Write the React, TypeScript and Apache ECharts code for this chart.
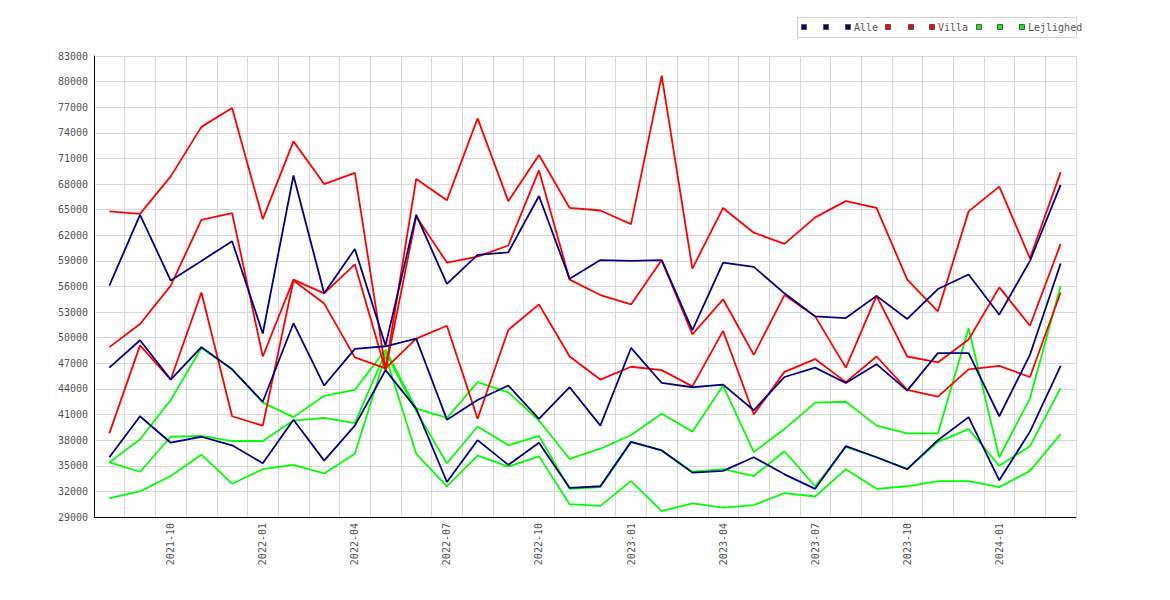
import React, { useEffect, useRef } from "react";
import * as echarts from "echarts";

// ---- Data ----
const months = [
  "2021-08", "2021-09", "2021-10", "2021-11", "2021-12",
  "2022-01", "2022-02", "2022-03", "2022-04", "2022-05", "2022-06",
  "2022-07", "2022-08", "2022-09", "2022-10", "2022-11", "2022-12",
  "2023-01", "2023-02", "2023-03", "2023-04", "2023-05", "2023-06",
  "2023-07", "2023-08", "2023-09", "2023-10", "2023-11", "2023-12",
  "2024-01", "2024-02", "2024-03",
];

const yMin = 29000;
const yMax = 83000;
const yStep = 3000;

const groups = ["Alle", "Villa", "Lejlighed"];
const groupColors = ["#000080", "#ff0000", "#00ff00"];

const alleHigh = [56100, 64400, 56700, 59000, 61300, 50500, 69000, 55200, 60400, 49100, 64400, 56300, 59700, 60000, 66600, 56900, 59100, 59000, 59100, 50900, 58800, 58300, 55200, 52500, 52300, 54900, 52200, 55700, 57400, 52700, 59000, 67900];
const alleMid = [46500, 49700, 45100, 48900, 46300, 42500, 51700, 44400, 48700, 49000, 49900, 40400, 42700, 44400, 40500, 44200, 39700, 48800, 44700, 44200, 44500, 41500, 45400, 46500, 44700, 46900, 43800, 48200, 48200, 40800, 48000, 58700];
const alleLow = [36000, 40800, 37700, 38400, 37400, 35300, 40400, 35600, 39700, 46200, 41700, 33100, 38000, 35100, 37700, 32400, 32600, 37800, 36800, 34200, 34400, 36000, 34000, 32300, 37300, 36000, 34600, 38000, 40700, 33300, 39000, 46700];

const villaHigh = [64800, 64500, 68900, 74700, 76900, 63900, 73000, 68000, 69300, 46300, 68600, 66100, 75700, 66000, 71400, 65200, 64900, 63300, 80700, 58100, 65200, 62300, 61000, 64100, 66000, 65200, 56800, 53100, 64800, 67700, 59300, 69400];
const villaMid = [48900, 51600, 56100, 63800, 64600, 47800, 56800, 55200, 58600, 46200, 64200, 58800, 59500, 60800, 69600, 56800, 55000, 53900, 59100, 50400, 54500, 48000, 55000, 52500, 46500, 54900, 47800, 47100, 49800, 55900, 51400, 61000];
const villaLow = [38800, 49100, 45100, 55300, 40800, 39700, 56700, 54000, 47700, 46400, 49900, 51400, 40500, 50900, 53900, 47800, 45100, 46600, 46200, 44300, 50800, 41000, 46000, 47500, 44800, 47800, 43900, 43100, 46300, 46700, 45400, 55300];

const lejlHigh = [35400, 38100, 42700, 48800, 46300, 42400, 40700, 43200, 43900, 48600, 41700, 40600, 44800, 43600, 40300, 35800, 37000, 38600, 41100, 39000, 44400, 36600, 39300, 42400, 42500, 39700, 38800, 38800, 51100, 36000, 42900, 56100];
const lejlMid = [35400, 34300, 38400, 38500, 37900, 37900, 40300, 40600, 40000, 48300, 41400, 35300, 39600, 37400, 38500, 32300, 32500, 37800, 36800, 34300, 34600, 33800, 36700, 32600, 37200, 36000, 34600, 37800, 39300, 35000, 37300, 44100];
const lejlLow = [31200, 32000, 33800, 36300, 32900, 34600, 35100, 34100, 36400, 47900, 36400, 32600, 36200, 34900, 36100, 30500, 30300, 33200, 29700, 30600, 30100, 30400, 31800, 31400, 34600, 32300, 32600, 33200, 33200, 32500, 34400, 38700];

const groupSeries = [
  [alleHigh, alleMid, alleLow],
  [villaHigh, villaMid, villaLow],
  [lejlHigh, lejlMid, lejlLow],
];

const FONT = "DejaVu Sans Mono";
const TEXT = "#555555";
const GRID = "#d9d9d9";

export default function App() {
  const ref = useRef<HTMLDivElement>(null);

  useEffect(() => {
    if (!ref.current) return;
    const chart = echarts.init(ref.current, undefined, { renderer: "svg" });

    // draw Lejlighed first, then Villa, then Alle on top
    const drawOrder = [2, 1, 0];
    const series: any[] = [];
    drawOrder.forEach((g) => {
      groupSeries[g].forEach((arr, k) => {
        series.push({
          type: "line",
          name: groups[g] + " " + (k + 1),
          data: arr,
          showSymbol: false,
          symbol: "none",
          smooth: false,
          lineStyle: { color: groupColors[g], width: 1.8 },
          itemStyle: { color: groupColors[g] },
          emphasis: { disabled: true },
          silent: true,
        });
      });
    });

    // legend drawn as graphic
    const iconX = [
      [801.5, 823.5, 845.5],
      [885.5, 908.5, 929.5],
      [976.5, 997.5, 1019.5],
    ];
    const textX = [854, 938, 1028];
    const graphic: any[] = [
      {
        type: "rect",
        shape: { x: 797.5, y: 17.5, width: 279, height: 20 },
        style: { fill: "#ffffff", stroke: "#d4d4d4", lineWidth: 1 },
        z: 10,
      },
    ];
    groups.forEach((name, g) => {
      iconX[g].forEach((x) => {
        graphic.push({
          type: "rect",
          shape: { x, y: 24.5, width: 5, height: 5 },
          style: { fill: groupColors[g], stroke: "#555555", lineWidth: 1 },
          z: 11,
        });
      });
      graphic.push({
        type: "text",
        x: textX[g],
        y: 27.5,
        style: {
          text: name,
          fill: TEXT,
          font: `10px "${FONT}"`,
          verticalAlign: "middle",
          align: "left",
        },
        z: 11,
      });
    });

    chart.setOption({
      animation: false,
      backgroundColor: "#ffffff",
      grid: { left: 94, right: 94, top: 56, bottom: 83, containLabel: false },
      xAxis: {
        type: "category",
        data: months,
        boundaryGap: true,
        axisLine: { show: true, lineStyle: { color: "#000000", width: 1 } },
        axisTick: { show: false },
        axisLabel: {
          rotate: 90,
          margin: 6,
          color: TEXT,
          fontSize: 10,
          fontFamily: FONT,
          interval: (idx: number) => idx % 3 === 2,
        },
        splitLine: { show: true, interval: 0, lineStyle: { color: GRID, width: 1 } },
      },
      yAxis: {
        type: "value",
        min: yMin,
        max: yMax,
        interval: yStep,
        axisLine: { show: true, lineStyle: { color: "#000000", width: 1 } },
        axisTick: { show: false },
        axisLabel: {
          margin: 6,
          color: TEXT,
          fontSize: 10,
          fontFamily: FONT,
          formatter: (v: number) => String(v),
        },
        splitLine: { show: true, lineStyle: { color: GRID, width: 1 } },
      },
      series,
      graphic,
    });

    return () => chart.dispose();
  }, []);

  return (
    <div
      ref={ref}
      style={{ position: "fixed", left: 0, top: 0, width: 1170, height: 600, background: "#fff" }}
    />
  );
}
